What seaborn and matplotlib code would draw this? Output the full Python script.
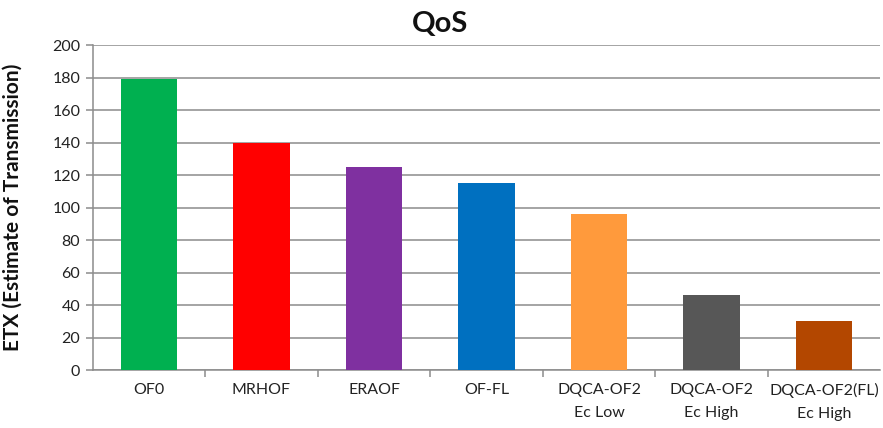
import matplotlib
matplotlib.use("Agg")
import matplotlib.pyplot as plt
from matplotlib.ticker import FixedLocator
import pandas as pd
import seaborn as sns

# Categories and ETX values
categories = ["OF0", "MRHOF", "ERAOF", "OF-FL",
              "DQCA-OF2\nEc Low", "DQCA-OF2\nEc High", "DQCA-OF2(FL)\nEc High"]
etx_values = [179, 140, 125, 115, 96, 46, 30]
bar_colors = ["#00B050", "#FF0000", "#7F30A0", "#0070C0",
              "#FF9A3C", "#575757", "#B34700"]
y_ticks = [0, 20, 40, 60, 80, 100, 120, 140, 160, 180, 200]

sns.set_theme(style="white")
plt.rcParams["font.family"] = ["Lato", "DejaVu Sans"]

df = pd.DataFrame({"method": categories, "etx": etx_values})

fig = plt.figure(figsize=(8.83, 4.28), dpi=100)
ax = fig.add_axes([0.105, 0.1355, 0.892, 0.759])

sns.barplot(data=df, x="method", y="etx", hue="method",
            palette=bar_colors, legend=False, width=0.5,
            saturation=1, edgecolor="none", ax=ax, zorder=3)

ax.set_xlim(-0.5, len(categories) - 0.5)
ax.set_ylim(0, 200)
ax.yaxis.set_major_locator(FixedLocator(y_ticks))
ax.yaxis.grid(True, color="#8C8C8C", linewidth=1.1, zorder=0)
ax.xaxis.grid(False)
ax.set_axisbelow(True)

for side in ("top", "right"):
    ax.spines[side].set_visible(False)
for side in ("left", "bottom"):
    ax.spines[side].set_color("#8C8C8C")
    ax.spines[side].set_linewidth(1.1)

# category-boundary ticks on the x axis
ax.xaxis.set_minor_locator(FixedLocator([i + 0.5 for i in range(len(categories) - 1)]))
ax.tick_params(axis="x", which="major", length=0, pad=9, labelsize=11.5,
               labelcolor="#222222")
ax.tick_params(axis="x", which="minor", bottom=True, length=5, width=1.1,
               color="#8C8C8C", direction="out")
ax.tick_params(axis="y", which="major", left=True, length=5, width=1.1,
               color="#8C8C8C", direction="out", labelsize=11.5,
               labelcolor="#222222", pad=4)
for lbl in ax.get_xticklabels():
    lbl.set_linespacing(1.9)
    lbl.set_verticalalignment("top")

ax.set_xlabel("")
ax.set_ylabel("ETX (Estimate of Transmission)", fontsize=15,
              fontweight="bold", color="#111111")
ax.yaxis.set_label_coords(-0.089, 0.5)
fig.text(0.498, 0.945, "QoS", ha="center", va="center",
         fontsize=21, fontweight="bold", color="#111111")

fig.savefig("out.png", dpi=100)
